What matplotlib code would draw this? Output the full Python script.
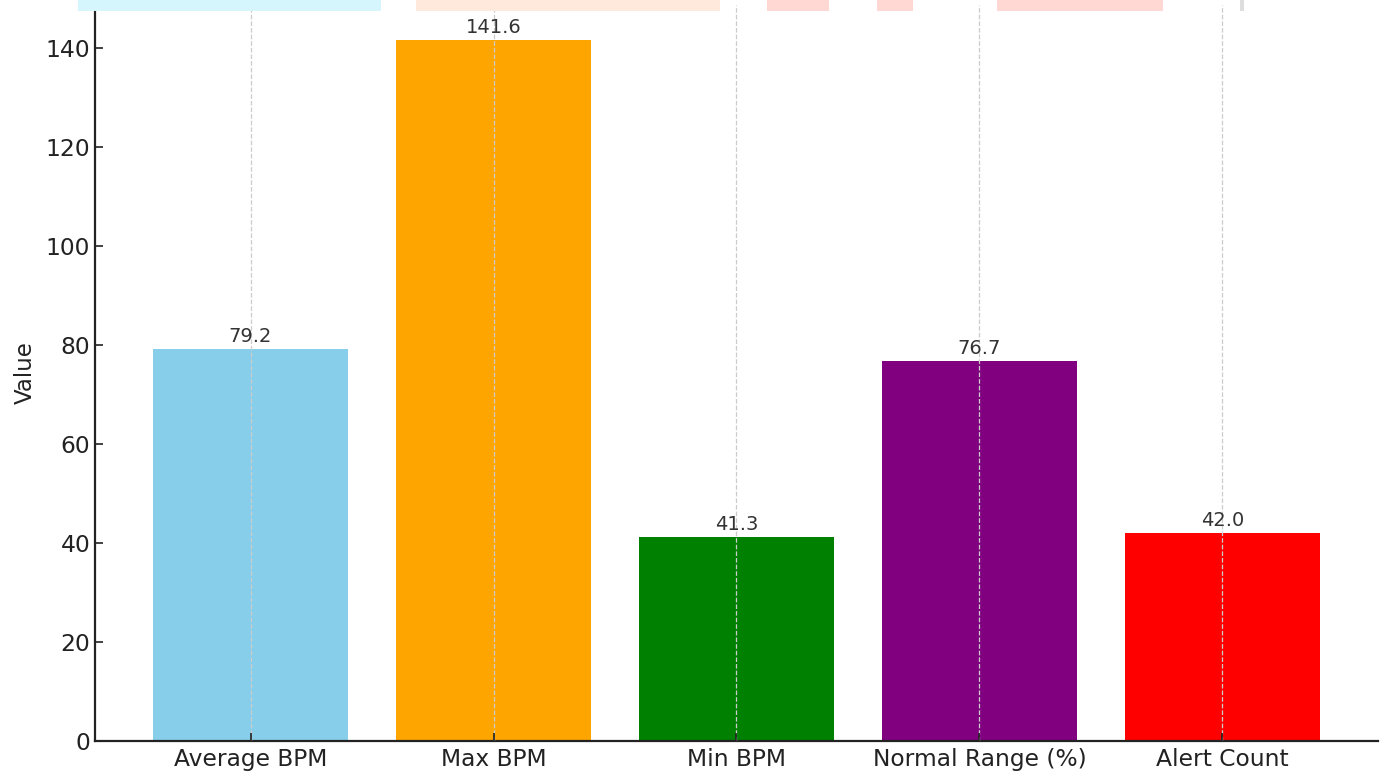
import matplotlib.pyplot as plt
from matplotlib.patches import Rectangle

metrics = ['Average BPM', 'Max BPM', 'Min BPM', 'Normal Range (%)', 'Alert Count']
values = [79.2, 141.6, 41.3, 76.7, 42.0]
colors = ['skyblue', 'orange', 'green', 'purple', 'red']

W, H = 1389, 773
fig = plt.figure(figsize=(W / 100, H / 100), dpi=100)
ax = fig.add_axes([95 / W, 32 / H, (1378 - 95) / W, (741 - 5) / H])

bars = ax.bar(metrics, values, color=colors, width=0.8)
for b, v in zip(bars, values):
    ax.text(b.get_x() + b.get_width() / 2, v + 0.6, f'{v:.1f}',
            ha='center', va='bottom', fontsize=14, color='#333333')

ax.grid(axis='x', linestyle='--', color='#cccccc', linewidth=0.9)
ax.set_axisbelow(False)
ax.set_ylabel('Value', fontsize=16.5, color='#222222', labelpad=6)
ax.tick_params(axis='both', direction='in', length=6, labelsize=16.8,
               colors='#222222', width=1.2)
ax.tick_params(axis='x', pad=5)
ax.spines['top'].set_visible(False)
ax.spines['right'].set_visible(False)
for s in ('left', 'bottom'):
    ax.spines[s].set_linewidth(1.6)
    ax.spines[s].set_color('#222222')

# faint strip left over at the very top of the image
strip = [(78, 381, '#d5f6fc'), (416, 720, '#ffe9dc'), (767, 829, '#ffd8d3'),
         (877, 913, '#ffd8d3'), (997, 1163, '#ffd8d3'), (1240, 1244, '#dddddd')]
for x0, x1, c in strip:
    fig.add_artist(Rectangle((x0 / W, 1 - 11 / H), (x1 - x0) / W, 11 / H,
                             transform=fig.transFigure, color=c, zorder=10, lw=0))

fig.savefig('out.png', dpi=100)
